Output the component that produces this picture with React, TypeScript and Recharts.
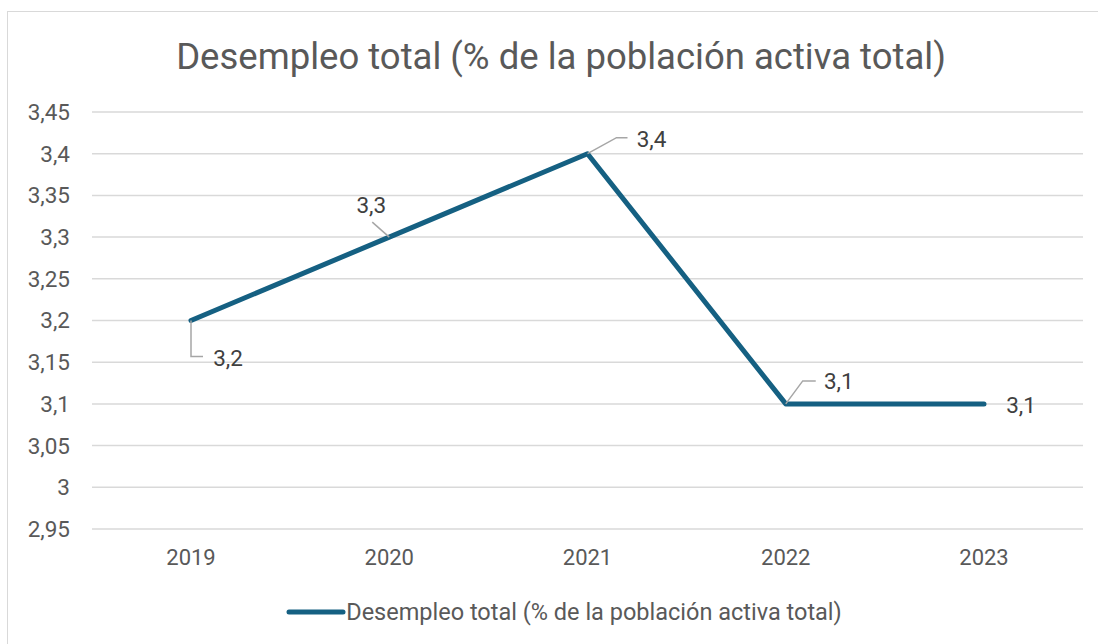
import React from 'react';
import { LineChart, Line, XAxis, YAxis, CartesianGrid, Legend, LabelList } from 'recharts';

const years = ['2019', '2020', '2021', '2022', '2023'];
const unemployment = [3.2, 3.3, 3.4, 3.1, 3.1];
const yTicks = [2.95, 3, 3.05, 3.1, 3.15, 3.2, 3.25, 3.3, 3.35, 3.4, 3.45];
const seriesName = 'Desempleo total (% de la población activa total)';
const chartTitle = 'Desempleo total (% de la población activa total)';

const data = years.map((year, i) => ({ year, value: unemployment[i] }));

const FONT = 'Roboto, "Noto Sans", sans-serif';
const LINE_COLOR = '#156082';
const TEXT_COLOR = '#595959';

// label placement (style) per point: text offset and leader line path relative to the point
const labelPlacement = [
  { dx: 37, dy: 37, leader: [[0, 0], [0, 36], [12, 36]] },
  { dx: -18, dy: -32, leader: [[0, 0], [-17, -15]] },
  { dx: 64, dy: -15, leader: [[0, 0], [29, -16], [40, -16]] },
  { dx: 53, dy: -23, leader: [[0, 0], [17, -23], [30, -23]] },
  { dx: 37, dy: 1, leader: [] as number[][] },
];

const fmt = (v: number) => String(v).replace('.', ',');

const DataLabel = (props: any) => {
  const { x, y, index, value } = props;
  const p = labelPlacement[index];
  if (!p) return null;
  const pts = p.leader.map(([a, b]) => `${x + a},${y + b}`).join(' ');
  return (
    <g>
      {p.leader.length > 0 && (
        <polyline points={pts} fill="none" stroke="#a6a6a6" strokeWidth={1.5} />
      )}
      <text
        x={x + p.dx}
        y={y + p.dy}
        textAnchor="middle"
        dominantBaseline="central"
        fontFamily={FONT}
        fontSize={22.5}
        fill="#404040"
      >
        {fmt(value)}
      </text>
    </g>
  );
};

const LegendContent = () => (
  <div
    style={{
      display: 'flex',
      alignItems: 'center',
      justifyContent: 'center',
      fontFamily: FONT,
      fontSize: 23.5,
      color: TEXT_COLOR,
      paddingLeft: 45,
      height: 30,
    }}
  >
    <svg width={60} height={10} style={{ marginRight: 0 }}>
      <line x1={3} y1={5} x2={57} y2={5} stroke={LINE_COLOR} strokeWidth={5} strokeLinecap="round" />
    </svg>
    <span>{seriesName}</span>
  </div>
);

export default function App() {
  return (
    <div
      style={{
        position: 'absolute',
        left: 0,
        top: 0,
        width: 1098,
        height: 644,
        overflow: 'hidden',
        background: '#ffffff',
      }}
    >
      <div
        style={{
          position: 'absolute',
          left: 7,
          top: 11,
          width: 1200,
          height: 800,
          border: '1px solid #d9d9d9',
        }}
      />
      <div
        style={{
          position: 'absolute',
          left: 0,
          top: 35,
          width: 1122,
          textAlign: 'center',
          fontFamily: FONT,
          fontSize: 36.5,
          color: TEXT_COLOR,
          lineHeight: '44px',
        }}
      >
        {chartTitle}
      </div>
      <div style={{ position: 'absolute', left: 0, top: 0 }}>
        <LineChart
          width={1098}
          height={644}
          data={data}
          margin={{ top: 112, right: 15, left: 0, bottom: 17 }}
        >
          <CartesianGrid vertical={false} stroke="#d9d9d9" strokeWidth={1.5} />
          <XAxis
            dataKey="year"
            axisLine={false}
            tickLine={false}
            tickSize={0}
            tickMargin={20}
            height={68}
            padding={{ left: 99, right: 99 }}
            tick={{ fill: TEXT_COLOR, fontFamily: FONT, fontSize: 22 }}
          />
          <YAxis
            domain={[2.95, 3.45]}
            ticks={yTicks}
            interval={0}
            axisLine={false}
            tickLine={false}
            tickSize={0}
            tickMargin={22}
            width={92}
            tickFormatter={fmt}
            tick={{ fill: TEXT_COLOR, fontFamily: FONT, fontSize: 22.5 }}
          />
          <Legend verticalAlign="bottom" height={30} content={<LegendContent />} />
          <Line
            type="linear"
            dataKey="value"
            name={seriesName}
            stroke={LINE_COLOR}
            strokeWidth={5}
            strokeLinecap="round"
            strokeLinejoin="round"
            dot={false}
            activeDot={false}
            isAnimationActive={false}
          >
            <LabelList dataKey="value" content={<DataLabel />} />
          </Line>
        </LineChart>
      </div>
    </div>
  );
}
